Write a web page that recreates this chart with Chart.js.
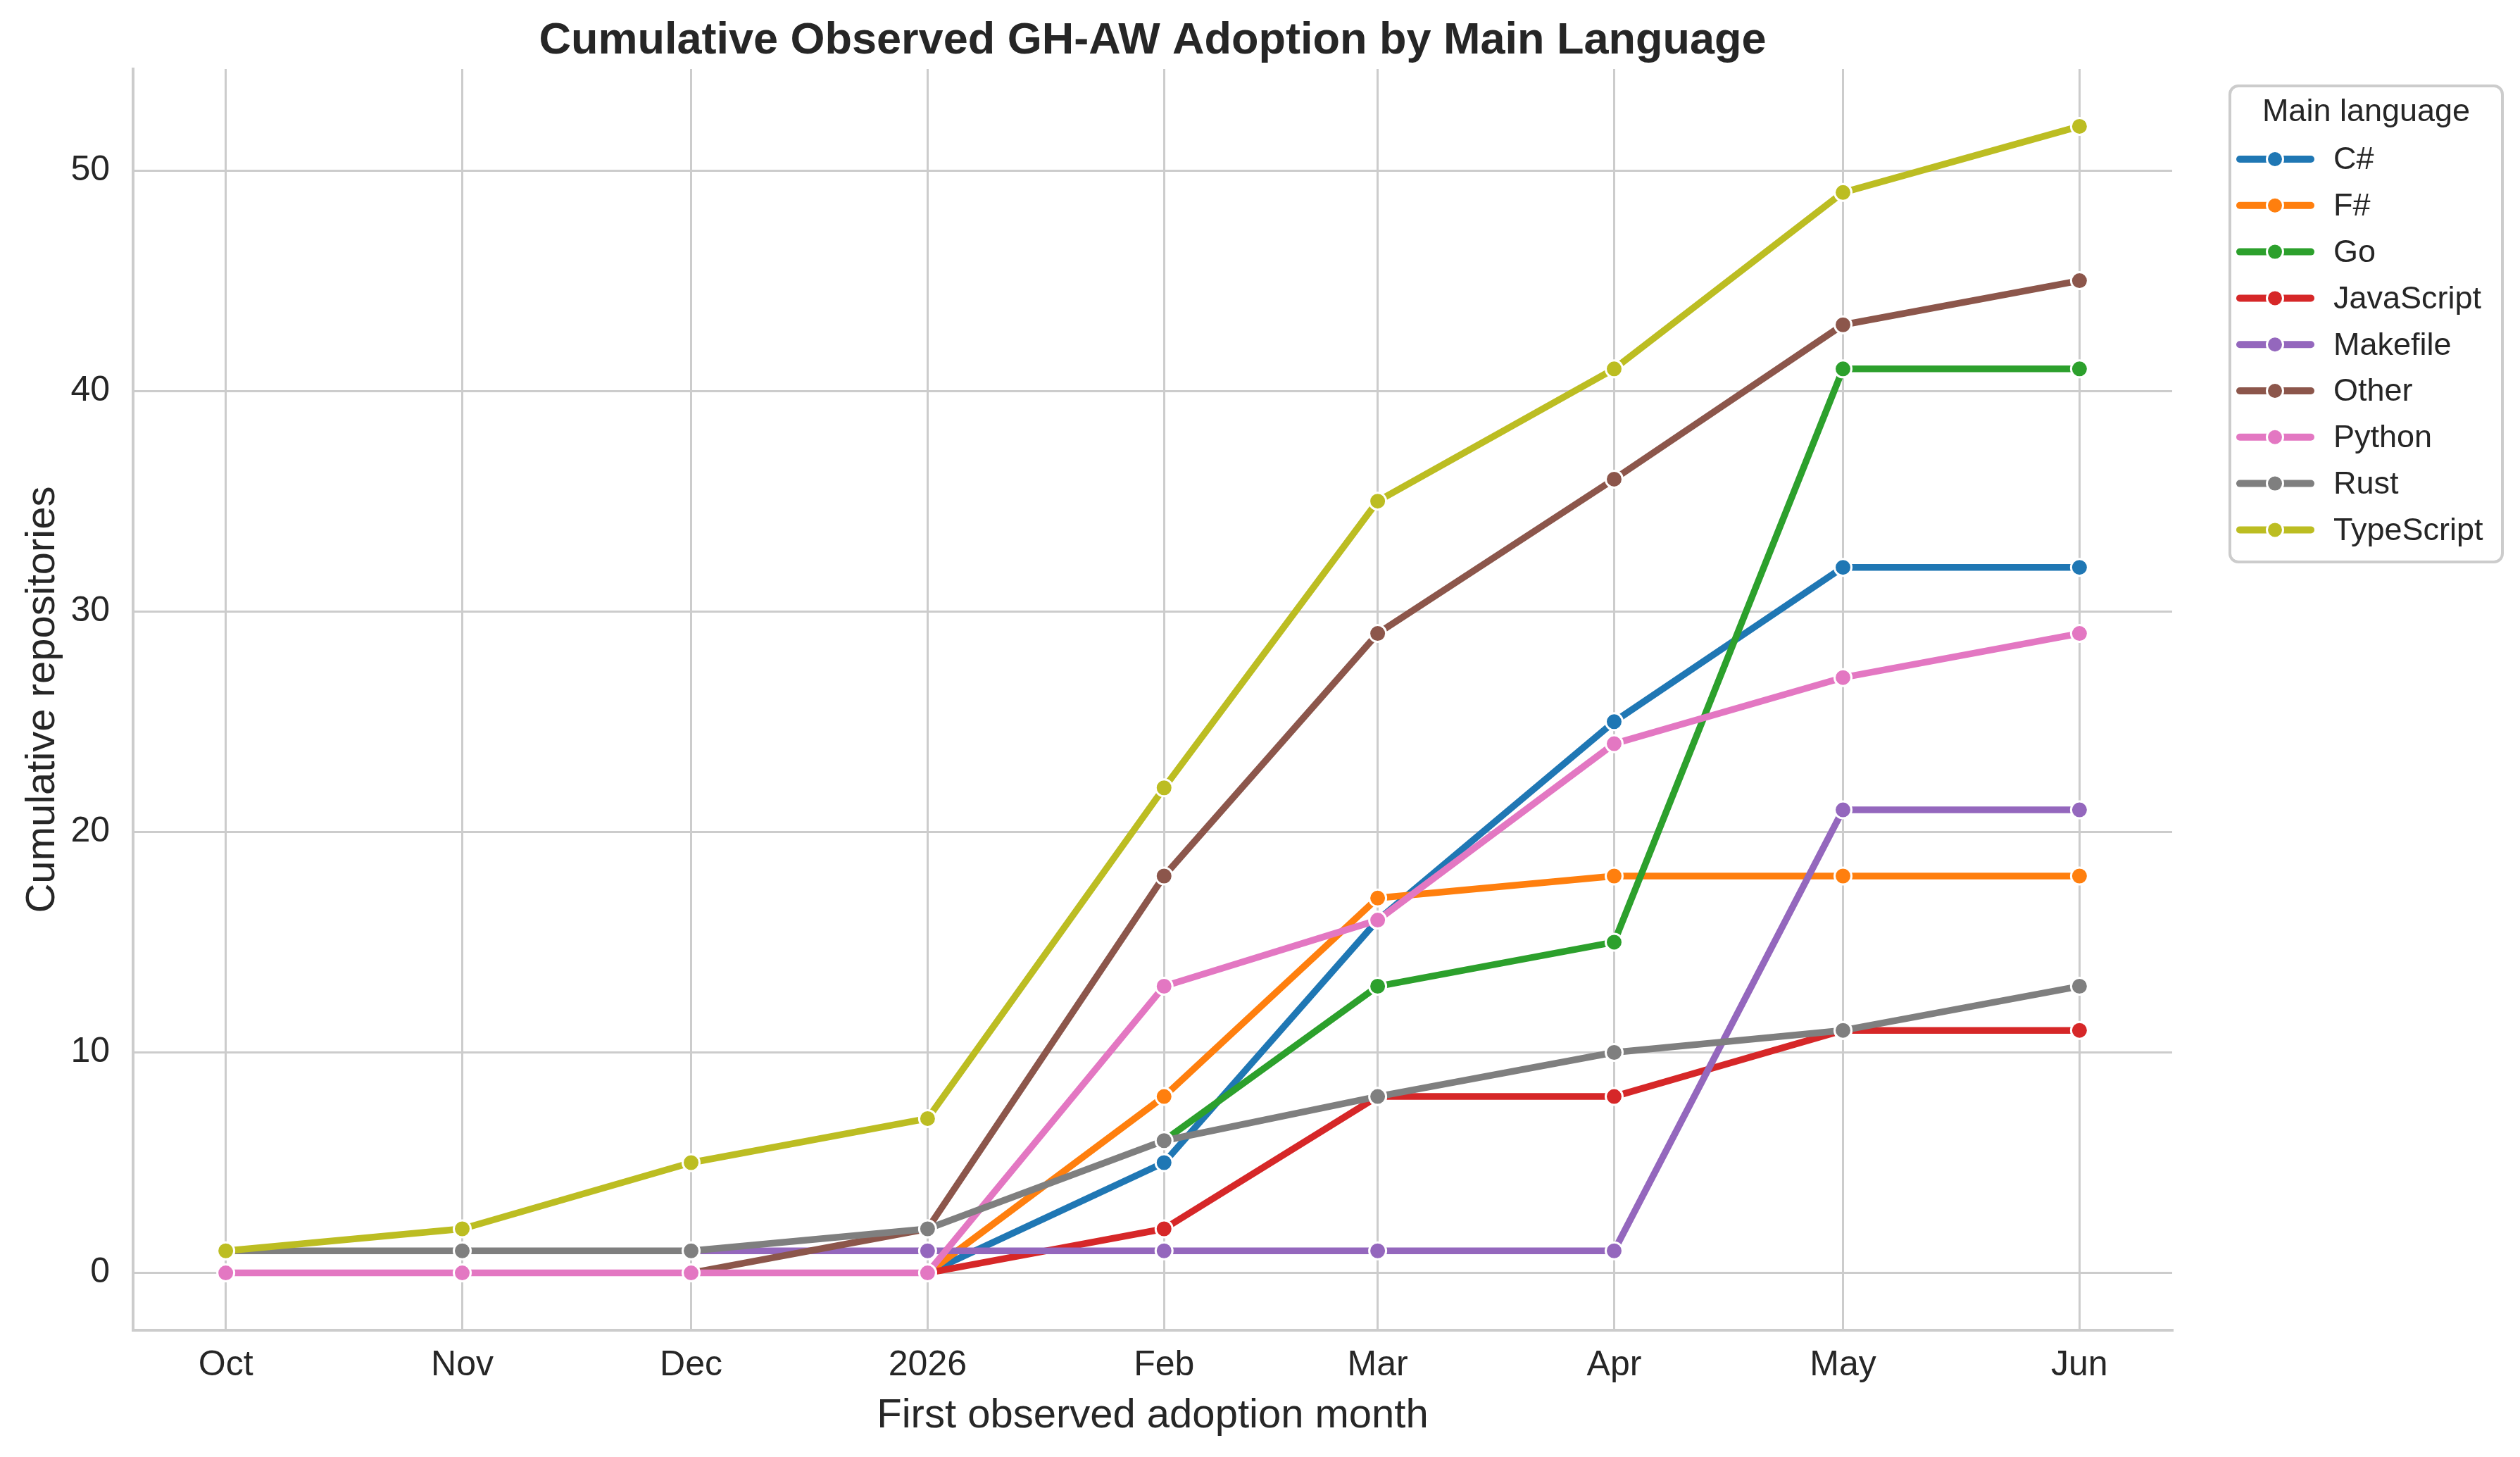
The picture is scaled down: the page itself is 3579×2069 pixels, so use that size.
<!DOCTYPE html>
<html>
<head>
<meta charset="utf-8">
<script src="https://cdn.jsdelivr.net/npm/chart.js@4"></script>
<style>
  html, body { margin: 0; padding: 0; background: #fff; }
  #wrap { width: 3579px; height: 2069px; }
</style>
</head>
<body>
<div id="wrap"><canvas id="adoption-chart"></canvas></div>
<script>
const months = ['2025-10-01', '2025-11-01', '2025-12-01', '2026-01-01', '2026-02-01',
  '2026-03-01', '2026-04-01', '2026-05-01', '2026-06-01'];
const monthLabels = ['Oct', 'Nov', 'Dec', '2026', 'Feb', 'Mar', 'Apr', 'May', 'Jun'];

const languages = ['C#', 'F#', 'Go', 'JavaScript', 'Makefile', 'Other', 'Python', 'Rust', 'TypeScript'];
const colors = ['#1f77b4', '#ff7f0e', '#2ca02c', '#d62728', '#9467bd', '#8c564b', '#e377c2', '#7f7f7f', '#bcbd22'];

// cumulative repositories per month (null = no observation yet)
const csharp     = [null, null, null, 0, 5, 16, 25, 32, 32];
const fsharp     = [null, null, null, 0, 8, 17, 18, 18, 18];
const go         = [null, null, null, null, 6, 13, 15, 41, 41];
const javascript = [null, null, null, 0, 2, 8, 8, 11, 11];
const makefile   = [null, null, 1, 1, 1, 1, 1, 21, 21];
const other      = [null, null, 0, 2, 18, 29, 36, 43, 45];
const python     = [0, 0, 0, 0, 13, 16, 24, 27, 29];
const rust       = [1, 1, 1, 2, 6, 8, 10, 11, 13];
const typescript = [1, 2, 5, 7, 22, 35, 41, 49, 52];

const yTicks = [0, 10, 20, 30, 40, 50];

const series = [csharp, fsharp, go, javascript, makefile, other, python, rust, typescript];

const FONT = '"Liberation Sans", Arial, sans-serif';
const TEXT = '#262626';
const GRID = '#cccccc';

const dayOf = m => (Date.parse(m) - Date.parse(months[0])) / 86400000;
const xDays = months.map(dayOf);
const span = xDays[xDays.length - 1] - xDays[0];
const yMax = Math.max(...series.flat().filter(v => v !== null));

const datasets = series.map((vals, i) => ({
  label: languages[i],
  data: vals.map((v, j) => ({ x: xDays[j], y: v })),
  borderColor: colors[i],
  backgroundColor: colors[i],
  borderWidth: 9.5,
  borderCapStyle: 'round',
  borderJoinStyle: 'round',
  pointRadius: 12,
  pointHoverRadius: 12,
  pointBorderWidth: 3,
  pointBorderColor: '#ffffff',
  pointBackgroundColor: colors[i],
  tension: 0,
  spanGaps: false,
  order: series.length - i
}));

const decorations = {
  id: 'decorations',
  afterDraw(chart) {
    const ctx = chart.ctx;
    const area = chart.chartArea;
    ctx.save();
    ctx.fillStyle = TEXT;

    // title
    ctx.font = 'bold 63px ' + FONT;
    ctx.textAlign = 'center';
    ctx.textBaseline = 'alphabetic';
    ctx.fillText('Cumulative Observed GH-AW Adoption by Main Language', (area.left + area.right) / 2, 76);

    // axis titles
    ctx.font = '58px ' + FONT;
    ctx.fillText('First observed adoption month', (area.left + area.right) / 2, 2027);
    ctx.save();
    ctx.translate(77, (area.top + area.bottom) / 2);
    ctx.rotate(-Math.PI / 2);
    ctx.fillText('Cumulative repositories', 0, 0);
    ctx.restore();

    // legend
    const bx = 3167, by = 122, bw = 387, bh = 676, r = 12;
    ctx.fillStyle = 'rgba(255,255,255,0.8)';
    ctx.strokeStyle = GRID;
    ctx.lineWidth = 4;
    ctx.beginPath();
    ctx.roundRect(bx, by, bw, bh, r);
    ctx.fill();
    ctx.stroke();

    ctx.fillStyle = TEXT;
    ctx.font = '45px ' + FONT;
    ctx.textAlign = 'center';
    ctx.textBaseline = 'middle';
    ctx.fillText('Main language', bx + bw / 2, 160);

    ctx.textAlign = 'left';
    languages.forEach((name, i) => {
      const y = 226 + i * 65.8;
      ctx.strokeStyle = colors[i];
      ctx.lineWidth = 10;
      ctx.lineCap = 'round';
      ctx.beginPath();
      ctx.moveTo(3181, y);
      ctx.lineTo(3282, y);
      ctx.stroke();
      ctx.beginPath();
      ctx.arc(3231, y, 11.5, 0, Math.PI * 2);
      ctx.fillStyle = colors[i];
      ctx.fill();
      ctx.lineWidth = 3;
      ctx.strokeStyle = '#ffffff';
      ctx.stroke();
      ctx.fillStyle = TEXT;
      ctx.fillText(name, 3314, y + 2);
    });
    ctx.restore();
  }
};

new Chart(document.getElementById('adoption-chart'), {
  type: 'line',
  data: { datasets },
  options: {
    responsive: true,
    maintainAspectRatio: false,
    devicePixelRatio: 1,
    animation: false,
    events: [],
    layout: { padding: { left: 0, top: 98, right: 494, bottom: 0 } },
    plugins: {
      legend: { display: false },
      title: { display: false },
      tooltip: { enabled: false }
    },
    scales: {
      x: {
        type: 'linear',
        min: xDays[0] - 0.05 * span,
        max: xDays[xDays.length - 1] + 0.05 * span,
        afterBuildTicks: s => { s.ticks = xDays.map(v => ({ value: v })); },
        afterFit: s => { s.height = 180; },
        ticks: {
          autoSkip: false,
          maxRotation: 0,
          padding: 20,
          color: TEXT,
          font: { family: FONT, size: 50, lineHeight: 1.2 },
          callback: v => monthLabels[xDays.indexOf(v)]
        },
        grid: { color: GRID, lineWidth: 3, drawTicks: false },
        border: { display: true, color: GRID, width: 4 }
      },
      y: {
        type: 'linear',
        min: -0.05 * yMax,
        max: yMax * 1.05,
        afterBuildTicks: s => { s.ticks = yTicks.map(v => ({ value: v })); },
        afterFit: s => { s.width = 189; },
        ticks: {
          padding: 33,
          color: TEXT,
          font: { family: FONT, size: 50 },
          callback: v => String(v)
        },
        grid: { color: GRID, lineWidth: 3, drawTicks: false },
        border: { display: true, color: GRID, width: 4 }
      }
    }
  },
  plugins: [decorations]
});
</script>
</body>
</html>
